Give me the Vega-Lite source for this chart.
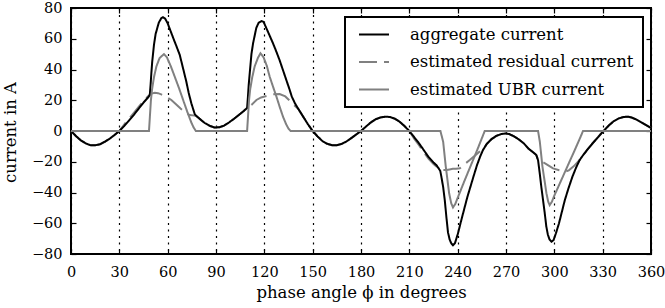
{
"$schema":"https://vega.github.io/schema/vega-lite/v6.json",
"autosize":{"type":"none"},
"width":580,"height":246,
"padding":{"left":71,"top":8,"right":14,"bottom":54},
"config":{"font":"DejaVu Serif","view":{"stroke":"black","strokeWidth":2},
"axis":{"tickColor":"black","tickWidth":1.2,"labelColor":"black","titleColor":"black","titleFontWeight":"normal","domain":false,"labelFont":"DejaVu Serif","titleFont":"DejaVu Serif"},
"legend":{"labelFont":"DejaVu Serif","strokeWidth":2}},
"data":{"values":[
{"s":"A","phi":0,"v":0},{"s":"A","phi":3,"v":-3.2},{"s":"A","phi":6,"v":-6},{"s":"A","phi":9,"v":-8},{"s":"A","phi":12,"v":-9.2},{"s":"A","phi":15,"v":-9.3},{"s":"A","phi":18,"v":-8.6},{"s":"A","phi":21,"v":-7},{"s":"A","phi":24,"v":-5},{"s":"A","phi":27,"v":-2.6},{"s":"A","phi":30,"v":0},{"s":"A","phi":33,"v":3.2},{"s":"A","phi":36,"v":6.8},{"s":"A","phi":39,"v":10.5},{"s":"A","phi":42,"v":14.5},{"s":"A","phi":45,"v":18.5},{"s":"A","phi":48,"v":22},{"s":"A","phi":48.9,"v":23.5},{"s":"A","phi":49.4,"v":30},{"s":"A","phi":49.9,"v":38},{"s":"A","phi":50.4,"v":45},{"s":"A","phi":51.5,"v":56},{"s":"A","phi":52.5,"v":63},{"s":"A","phi":54.5,"v":70.5},{"s":"A","phi":56,"v":73.3},{"s":"A","phi":57.1,"v":74},{"s":"A","phi":58.5,"v":73},{"s":"A","phi":60,"v":70},{"s":"A","phi":62,"v":64.5},{"s":"A","phi":64,"v":59},{"s":"A","phi":65.5,"v":55},{"s":"A","phi":67.5,"v":49.5},{"s":"A","phi":69.5,"v":41},{"s":"A","phi":71.6,"v":32},{"s":"A","phi":73,"v":25},{"s":"A","phi":74.7,"v":18},{"s":"A","phi":76.8,"v":11},{"s":"A","phi":78,"v":9.6},{"s":"A","phi":80,"v":7.8},{"s":"A","phi":83,"v":5.2},{"s":"A","phi":86,"v":3.4},{"s":"A","phi":89,"v":2.3},{"s":"A","phi":92,"v":2.4},{"s":"A","phi":95,"v":3.5},{"s":"A","phi":98,"v":5.5},{"s":"A","phi":101,"v":7.8},{"s":"A","phi":104,"v":10.3},{"s":"A","phi":107,"v":12.8},{"s":"A","phi":109.3,"v":15},{"s":"A","phi":109.8,"v":22},{"s":"A","phi":110.3,"v":30},{"s":"A","phi":110.8,"v":36},{"s":"A","phi":112,"v":50},{"s":"A","phi":113,"v":57},{"s":"A","phi":115,"v":67},{"s":"A","phi":116.5,"v":70.5},{"s":"A","phi":118.2,"v":71.5},{"s":"A","phi":119.5,"v":71},{"s":"A","phi":121,"v":67.5},{"s":"A","phi":123.3,"v":62},{"s":"A","phi":125.4,"v":57},{"s":"A","phi":127.5,"v":51.5},{"s":"A","phi":129.5,"v":46},{"s":"A","phi":131.6,"v":39.5},{"s":"A","phi":133.7,"v":33},{"s":"A","phi":135.5,"v":27.5},{"s":"A","phi":137,"v":22.5},{"s":"A","phi":139,"v":18},{"s":"A","phi":141,"v":14.5},{"s":"A","phi":144,"v":9.5},{"s":"A","phi":147,"v":4.5},{"s":"A","phi":150,"v":0},{"s":"A","phi":153,"v":-3.5},{"s":"A","phi":156,"v":-6.5},{"s":"A","phi":159,"v":-8.3},{"s":"A","phi":162,"v":-9.2},{"s":"A","phi":165,"v":-9.2},{"s":"A","phi":168,"v":-8.4},{"s":"A","phi":171,"v":-6.8},{"s":"A","phi":174,"v":-4.6},{"s":"A","phi":177,"v":-2.3},{"s":"A","phi":180,"v":0},{"s":"A","phi":183,"v":2.8},{"s":"A","phi":186,"v":5.5},{"s":"A","phi":189,"v":7.6},{"s":"A","phi":192,"v":8.8},{"s":"A","phi":195,"v":9.3},{"s":"A","phi":198,"v":9.1},{"s":"A","phi":201,"v":8},{"s":"A","phi":204,"v":6},{"s":"A","phi":207,"v":3.2},{"s":"A","phi":210,"v":0},{"s":"A","phi":213,"v":-4},{"s":"A","phi":216,"v":-8},{"s":"A","phi":219,"v":-12.5},{"s":"A","phi":222,"v":-17},{"s":"A","phi":225,"v":-20.5},{"s":"A","phi":226.8,"v":-22.2},{"s":"A","phi":228,"v":-24},{"s":"A","phi":229.2,"v":-26},{"s":"A","phi":229.9,"v":-29.8},{"s":"A","phi":231,"v":-36.5},{"s":"A","phi":232,"v":-45},{"s":"A","phi":233,"v":-56},{"s":"A","phi":234,"v":-66},{"s":"A","phi":235,"v":-70.5},{"s":"A","phi":236,"v":-73},{"s":"A","phi":237.1,"v":-74.3},{"s":"A","phi":238.3,"v":-73},{"s":"A","phi":240.2,"v":-66.6},{"s":"A","phi":242,"v":-59},{"s":"A","phi":244,"v":-51},{"s":"A","phi":246,"v":-43},{"s":"A","phi":248,"v":-36},{"s":"A","phi":250,"v":-29},{"s":"A","phi":252,"v":-22.2},{"s":"A","phi":254,"v":-16.5},{"s":"A","phi":255.7,"v":-12.4},{"s":"A","phi":258,"v":-8.5},{"s":"A","phi":261,"v":-5.3},{"s":"A","phi":264,"v":-3.2},{"s":"A","phi":267,"v":-2},{"s":"A","phi":269.5,"v":-1.6},{"s":"A","phi":272,"v":-2},{"s":"A","phi":275,"v":-3.5},{"s":"A","phi":278,"v":-5.5},{"s":"A","phi":281,"v":-8},{"s":"A","phi":284,"v":-11.5},{"s":"A","phi":287,"v":-14},{"s":"A","phi":288.8,"v":-15.6},{"s":"A","phi":289.9,"v":-19},{"s":"A","phi":291,"v":-28},{"s":"A","phi":292,"v":-37},{"s":"A","phi":293,"v":-45},{"s":"A","phi":294,"v":-53},{"s":"A","phi":295,"v":-62},{"s":"A","phi":296,"v":-67.5},{"s":"A","phi":297,"v":-70.5},{"s":"A","phi":298.2,"v":-72},{"s":"A","phi":299.5,"v":-71},{"s":"A","phi":301,"v":-66.5},{"s":"A","phi":302.9,"v":-60},{"s":"A","phi":304.7,"v":-52.5},{"s":"A","phi":306.5,"v":-45},{"s":"A","phi":308.8,"v":-37.2},{"s":"A","phi":311.2,"v":-29.8},{"s":"A","phi":313.5,"v":-23.8},{"s":"A","phi":315.7,"v":-18.9},{"s":"A","phi":318,"v":-15.5},{"s":"A","phi":321,"v":-11.5},{"s":"A","phi":324,"v":-7.7},{"s":"A","phi":327,"v":-4.2},{"s":"A","phi":329.2,"v":-1.5},{"s":"A","phi":331,"v":0.5},{"s":"A","phi":334,"v":3.8},{"s":"A","phi":337,"v":6.5},{"s":"A","phi":340,"v":8.2},{"s":"A","phi":343,"v":9.1},{"s":"A","phi":345.7,"v":9.3},{"s":"A","phi":348,"v":8.8},{"s":"A","phi":351,"v":7.4},{"s":"A","phi":354,"v":5.6},{"s":"A","phi":357,"v":3.8},{"s":"A","phi":360,"v":2},
{"s":"R","phi":0,"v":0},{"s":"R","phi":3,"v":-3.2},{"s":"R","phi":6,"v":-6},{"s":"R","phi":9,"v":-8},{"s":"R","phi":12,"v":-9.2},{"s":"R","phi":15,"v":-9.3},{"s":"R","phi":18,"v":-8.6},{"s":"R","phi":21,"v":-7},{"s":"R","phi":24,"v":-5},{"s":"R","phi":27,"v":-2.6},{"s":"R","phi":30,"v":0},{"s":"R","phi":33,"v":4.2},{"s":"R","phi":36,"v":8},{"s":"R","phi":39,"v":11.8},{"s":"R","phi":42,"v":15.7},{"s":"R","phi":45,"v":19.5},{"s":"R","phi":48,"v":22.8},{"s":"R","phi":48.9,"v":23.5},{"s":"R","phi":50,"v":24.3},{"s":"R","phi":52,"v":24.8},{"s":"R","phi":54,"v":24.6},{"s":"R","phi":56,"v":23.8},{"s":"R","phi":58,"v":22.8},{"s":"R","phi":60,"v":21.6},{"s":"R","phi":62.3,"v":20.2},{"s":"R","phi":65,"v":17.6},{"s":"R","phi":68,"v":14.6},{"s":"R","phi":71,"v":12},{"s":"R","phi":73.7,"v":10.4},{"s":"R","phi":76.8,"v":10},{"s":"R","phi":78,"v":9.6},{"s":"R","phi":80,"v":7.8},{"s":"R","phi":83,"v":5.2},{"s":"R","phi":86,"v":3.4},{"s":"R","phi":89,"v":2.3},{"s":"R","phi":92,"v":2.4},{"s":"R","phi":95,"v":3.5},{"s":"R","phi":98,"v":5.5},{"s":"R","phi":101,"v":7.8},{"s":"R","phi":104,"v":10.3},{"s":"R","phi":107,"v":12.8},{"s":"R","phi":109.3,"v":15},{"s":"R","phi":112,"v":17},{"s":"R","phi":115.1,"v":20.2},{"s":"R","phi":118,"v":21.8},{"s":"R","phi":121.3,"v":22.8},{"s":"R","phi":125,"v":23.8},{"s":"R","phi":129.5,"v":24},{"s":"R","phi":133,"v":22.5},{"s":"R","phi":136,"v":19.5},{"s":"R","phi":138.5,"v":16.8},{"s":"R","phi":141,"v":14.5},{"s":"R","phi":144,"v":9.5},{"s":"R","phi":147,"v":4.5},{"s":"R","phi":150,"v":0},{"s":"R","phi":153,"v":-3.5},{"s":"R","phi":156,"v":-6.5},{"s":"R","phi":159,"v":-8.3},{"s":"R","phi":162,"v":-9.2},{"s":"R","phi":165,"v":-9.2},{"s":"R","phi":168,"v":-8.4},{"s":"R","phi":171,"v":-6.8},{"s":"R","phi":174,"v":-4.6},{"s":"R","phi":177,"v":-2.3},{"s":"R","phi":180,"v":0},{"s":"R","phi":183,"v":2.8},{"s":"R","phi":186,"v":5.5},{"s":"R","phi":189,"v":7.6},{"s":"R","phi":192,"v":8.8},{"s":"R","phi":195,"v":9.3},{"s":"R","phi":198,"v":9.1},{"s":"R","phi":201,"v":8},{"s":"R","phi":204,"v":6},{"s":"R","phi":207,"v":3.2},{"s":"R","phi":210,"v":0},{"s":"R","phi":213,"v":-5},{"s":"R","phi":216,"v":-9.2},{"s":"R","phi":219,"v":-13.8},{"s":"R","phi":222,"v":-18.2},{"s":"R","phi":225,"v":-21.5},{"s":"R","phi":226.8,"v":-23},{"s":"R","phi":228,"v":-24},{"s":"R","phi":229.2,"v":-24.8},{"s":"R","phi":231,"v":-25.3},{"s":"R","phi":233,"v":-25.4},{"s":"R","phi":235,"v":-25},{"s":"R","phi":237,"v":-24.6},{"s":"R","phi":239,"v":-24.5},{"s":"R","phi":241.3,"v":-24.3},{"s":"R","phi":244,"v":-21.8},{"s":"R","phi":247.5,"v":-18.9},{"s":"R","phi":251,"v":-15.8},{"s":"R","phi":254,"v":-13},{"s":"R","phi":255.7,"v":-12.4},{"s":"R","phi":258,"v":-8.5},{"s":"R","phi":261,"v":-5.3},{"s":"R","phi":264,"v":-3.2},{"s":"R","phi":267,"v":-2},{"s":"R","phi":269.5,"v":-1.6},{"s":"R","phi":272,"v":-2},{"s":"R","phi":275,"v":-3.5},{"s":"R","phi":278,"v":-5.5},{"s":"R","phi":281,"v":-8},{"s":"R","phi":284,"v":-11.5},{"s":"R","phi":287,"v":-14},{"s":"R","phi":288.8,"v":-15.6},{"s":"R","phi":289.9,"v":-18.9},{"s":"R","phi":292,"v":-19.8},{"s":"R","phi":295,"v":-21.5},{"s":"R","phi":299.2,"v":-24.3},{"s":"R","phi":303,"v":-25.5},{"s":"R","phi":307,"v":-26.3},{"s":"R","phi":309,"v":-25.6},{"s":"R","phi":312,"v":-23},{"s":"R","phi":315.7,"v":-18.9},{"s":"R","phi":318,"v":-15.5},{"s":"R","phi":321,"v":-11.5},{"s":"R","phi":324,"v":-7.7},{"s":"R","phi":327,"v":-4.2},{"s":"R","phi":329.2,"v":-1.5},{"s":"R","phi":331,"v":0.5},{"s":"R","phi":334,"v":3.8},{"s":"R","phi":337,"v":6.5},{"s":"R","phi":340,"v":8.2},{"s":"R","phi":343,"v":9.1},{"s":"R","phi":345.7,"v":9.3},{"s":"R","phi":348,"v":8.8},{"s":"R","phi":351,"v":7.4},{"s":"R","phi":354,"v":5.6},{"s":"R","phi":357,"v":3.8},{"s":"R","phi":360,"v":2},
{"s":"U","phi":0,"v":0},{"s":"U","phi":48.4,"v":0},{"s":"U","phi":49,"v":10},{"s":"U","phi":49.6,"v":20},{"s":"U","phi":50.3,"v":27},{"s":"U","phi":51.5,"v":35},{"s":"U","phi":53,"v":42},{"s":"U","phi":55,"v":47.5},{"s":"U","phi":57.7,"v":50},{"s":"U","phi":59.5,"v":48},{"s":"U","phi":62,"v":42},{"s":"U","phi":64.5,"v":35},{"s":"U","phi":67,"v":28},{"s":"U","phi":69.5,"v":20.5},{"s":"U","phi":72,"v":13},{"s":"U","phi":74.5,"v":6},{"s":"U","phi":76,"v":2.5},{"s":"U","phi":77.5,"v":0},{"s":"U","phi":109.3,"v":0},{"s":"U","phi":109.9,"v":10},{"s":"U","phi":110.5,"v":20},{"s":"U","phi":111.2,"v":27},{"s":"U","phi":112.5,"v":35},{"s":"U","phi":114,"v":42},{"s":"U","phi":116,"v":47.5},{"s":"U","phi":117.6,"v":50.5},{"s":"U","phi":119.5,"v":48},{"s":"U","phi":121.5,"v":42.5},{"s":"U","phi":123.3,"v":35.4},{"s":"U","phi":125.5,"v":28.5},{"s":"U","phi":127.5,"v":22.4},{"s":"U","phi":129.5,"v":15.8},{"s":"U","phi":131.6,"v":9.3},{"s":"U","phi":133.5,"v":4.5},{"s":"U","phi":135,"v":1.5},{"s":"U","phi":136.3,"v":0},{"s":"U","phi":229.3,"v":0},{"s":"U","phi":231,"v":-7},{"s":"U","phi":232.6,"v":-23},{"s":"U","phi":234.7,"v":-40.5},{"s":"U","phi":236,"v":-47},{"s":"U","phi":237.1,"v":-49.7},{"s":"U","phi":238.5,"v":-47.5},{"s":"U","phi":240,"v":-43.5},{"s":"U","phi":244,"v":-33},{"s":"U","phi":248,"v":-22.8},{"s":"U","phi":252,"v":-12.7},{"s":"U","phi":256.8,"v":0},{"s":"U","phi":289.9,"v":0},{"s":"U","phi":291,"v":-7},{"s":"U","phi":292.6,"v":-23},{"s":"U","phi":295.1,"v":-40.5},{"s":"U","phi":296.2,"v":-46},{"s":"U","phi":297.1,"v":-48.2},{"s":"U","phi":298.5,"v":-46},{"s":"U","phi":300,"v":-42},{"s":"U","phi":304,"v":-32.7},{"s":"U","phi":308,"v":-23.3},{"s":"U","phi":312,"v":-14},{"s":"U","phi":316,"v":-4.5},{"s":"U","phi":317.8,"v":0},{"s":"U","phi":360,"v":0}
]},
"encoding":{
"color":{"field":"s","type":"nominal","scale":{"domain":["A","R","U"],"range":["#000000","#808080","#808080"]},
"legend":{"orient":"none","legendX":274,"legendY":9,"title":null,"strokeColor":"black","fillColor":"white","padding":9,"cornerRadius":0,"symbolType":"M-2,0H2","symbolSize":225,"symbolStrokeWidth":2,"symbolOffset":11.5,"labelOffset":27.5,"labelFontSize":16.5,"labelColor":"black","rowPadding":10.5,"labelLimit":400,
"labelExpr":"datum.label == 'A' ? 'aggregate current' : datum.label == 'R' ? 'estimated residual current' : 'estimated UBR current'"}},
"strokeDash":{"field":"s","type":"nominal","scale":{"domain":["A","R","U"],"range":[[1,0],[18,7],[1,0]]},
"legend":{"orient":"none","legendX":274,"legendY":9,"title":null,"strokeColor":"black","fillColor":"white","padding":9,"cornerRadius":0,"symbolType":"M-2,0H2","symbolSize":225,"symbolStrokeWidth":2,"symbolOffset":11.5,"labelOffset":27.5,"labelFontSize":16.5,"labelColor":"black","rowPadding":10.5,"labelLimit":400,
"labelExpr":"datum.label == 'A' ? 'aggregate current' : datum.label == 'R' ? 'estimated residual current' : 'estimated UBR current'"}}
},
"resolve":{"axis":{"x":"independent","y":"independent"}},
"layer":[
{"transform":[{"filter":"datum.s == 'R'"}],
"mark":{"type":"line","strokeWidth":2},
"encoding":{
"x":{"field":"phi","type":"quantitative","scale":{"domain":[0,360],"nice":false,"zero":false},
"axis":{"orient":"bottom","values":[0,30,60,90,120,150,180,210,240,270,300,330,360],"grid":true,"gridDash":[2,4.5],"gridColor":"black","gridWidth":1.2,"gridOpacity":1,"ticks":false,"labelFontSize":14.5,"labelPadding":11,"labelFlush":false,"labelOverlap":false,"title":"phase angle ϕ in degrees","titleFontSize":16.5,"titleY":43,"titleBaseline":"alphabetic"}},
"y":{"field":"v","type":"quantitative","scale":{"domain":[-80,80],"nice":false},
"axis":{"orient":"left","values":[-80,-60,-40,-20,0,20,40,60,80],"grid":false,"ticks":false,"labelFontSize":14.5,"labelPadding":9,"labelFlush":false,"labelOverlap":false,"title":"current in A","titleFontSize":16.5,"titleX":-61,"titleY":124,"titleAngle":-90,"titleAlign":"center","titleBaseline":"middle"}}
}},
{"transform":[{"filter":"datum.s == 'A'"}],
"mark":{"type":"line","strokeWidth":2},
"encoding":{
"x":{"field":"phi","type":"quantitative","axis":{"orient":"bottom","values":[0,30,60,90,120,150,180,210,240,270,300,330,360],"labels":false,"grid":false,"tickSize":-5,"title":null}},
"y":{"field":"v","type":"quantitative","axis":{"orient":"left","values":[-80,-60,-40,-20,0,20,40,60,80],"labels":false,"grid":false,"tickSize":-5,"title":null}}
}},
{"transform":[{"filter":"datum.s == 'U'"}],
"mark":{"type":"line","strokeWidth":2},
"encoding":{
"x":{"field":"phi","type":"quantitative","axis":{"orient":"top","values":[0,30,60,90,120,150,180,210,240,270,300,330,360],"labels":false,"grid":false,"tickSize":-5,"title":null}},
"y":{"field":"v","type":"quantitative","axis":{"orient":"right","values":[-80,-60,-40,-20,0,20,40,60,80],"labels":false,"grid":false,"tickSize":-5,"title":null}}
}}
]
}
